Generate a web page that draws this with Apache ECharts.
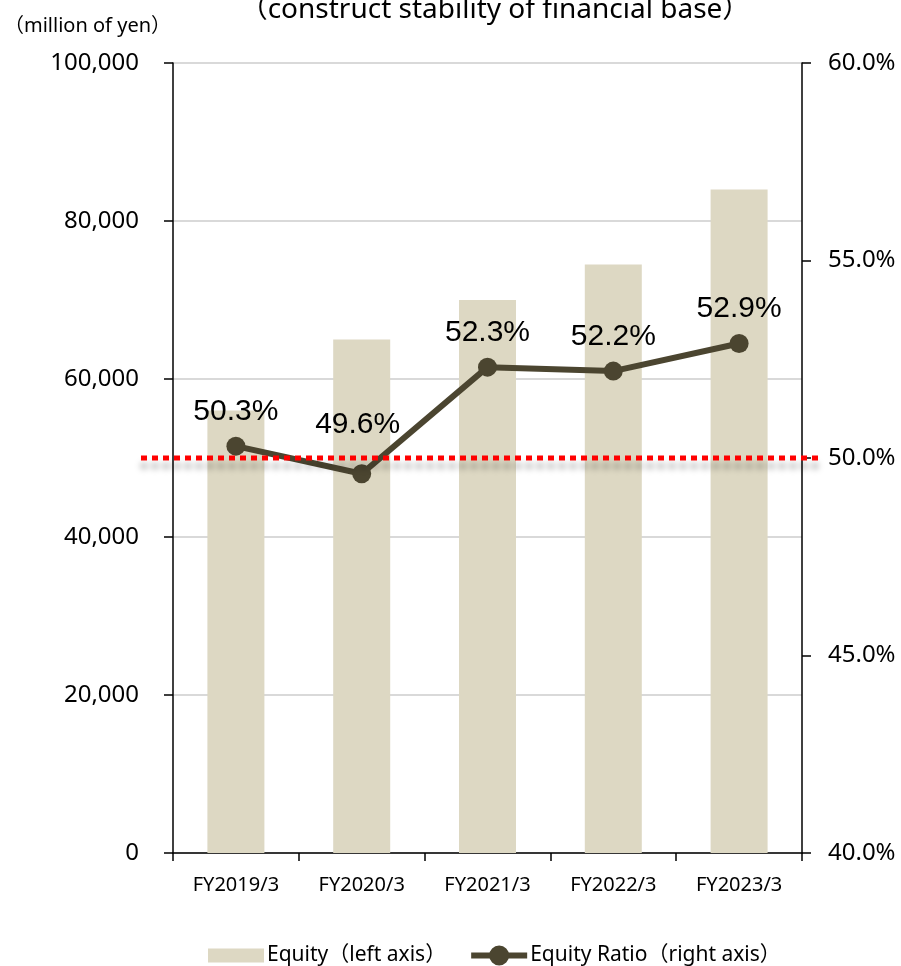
<!DOCTYPE html>
<html>
<head>
<meta charset="utf-8">
<script src="https://cdn.jsdelivr.net/npm/echarts@6/dist/echarts.min.js"></script>
<style>
  html, body { margin: 0; padding: 0; background: #fff; }
  #chart { width: 901px; height: 966px; }
</style>
</head>
<body>
<div id="chart"></div>
<script>
// Fiscal years shown on the category axis
const categories = ['FY2019/3', 'FY2020/3', 'FY2021/3', 'FY2022/3', 'FY2023/3'];
// Equity, million of yen (left axis)
const equity = [56000, 65000, 70000, 74500, 84000];
// Equity ratio, % (right axis)
const equityRatio = [50.3, 49.6, 52.3, 52.2, 52.9];
// Target ratio drawn as the red dotted reference line
const targetRatio = 50;

const labelFont = "'Noto Sans', 'Noto Sans CJK JP', sans-serif";
const numFont = "'Liberation Sans', Arial, sans-serif";

const GRID = { left: 173, right: 99, top: 63, bottom: 113 };
const BAR_COLOR = '#DDD8C3';
const LINE_COLOR = '#4B4530';

// Legend icons drawn in a 56x20 box: a short bar swatch, and a thick line with a dot
const BAR_ICON = 'path://M0,0M0,3L56,3L56,17L0,17ZM56,20';
const LINE_ICON = 'path://M0,7L56,7L56,13L0,13ZM38,10A10,10,0,1,1,18,10A10,10,0,1,1,38,10Z';

const chart = echarts.init(document.getElementById('chart'), null, { renderer: 'canvas' });

const unitLabel = {
  type: 'text',
  left: 4,
  top: 16,
  style: { text: '（million of yen）', fontFamily: labelFont, fontSize: 20, fill: '#000' }
};

// Label of the dipping year sits a bit higher and to the left of its point
const ratioData = equityRatio.map((v, i) =>
  i === 1 ? { value: v, label: { offset: [-4, -15] } } : v
);

const option = {
  backgroundColor: '#ffffff',
  animation: false,
  title: {
    text: '（construct stability of financial base）',
    left: 490,
    textAlign: 'center',
    top: -9,
    textStyle: { fontFamily: labelFont, fontSize: 28, fontWeight: 'normal', color: '#000' }
  },
  legend: {
    top: 940,
    left: 203,
    itemGap: 25,
    itemWidth: 56,
    itemHeight: 20,
    textStyle: { fontFamily: labelFont, fontSize: 21, color: '#000', padding: [0, 0, 0, -2] },
    data: [
      { name: 'Equity（left axis）', icon: BAR_ICON, itemStyle: { color: BAR_COLOR } },
      { name: 'Equity Ratio（right axis）', icon: LINE_ICON, itemStyle: { color: LINE_COLOR } }
    ]
  },
  grid: GRID,
  xAxis: {
    type: 'category',
    data: categories,
    boundaryGap: true,
    axisLine: { lineStyle: { color: '#000', width: 1.5 } },
    axisTick: { show: true, length: 8, alignWithLabel: false, lineStyle: { color: '#000', width: 1.5 } },
    axisLabel: { fontFamily: labelFont, fontSize: 20, color: '#000', margin: 22 }
  },
  yAxis: [{
    type: 'value',
    min: 0,
    max: 100000,
    interval: 20000,
    position: 'left',
    axisLine: { show: true, lineStyle: { color: '#000', width: 1.5 } },
    axisTick: { show: true, length: 9, lineStyle: { color: '#000', width: 1.5 } },
    axisLabel: {
      fontFamily: labelFont, fontSize: 24, color: '#000', margin: 34,
      formatter: v => v.toLocaleString('en-US')
    },
    splitLine: { show: true, lineStyle: { color: '#D9D9D9', width: 2 } }
  }, {
    type: 'value',
    min: 40,
    max: 60,
    interval: 5,
    position: 'right',
    axisLine: { show: true, lineStyle: { color: '#000', width: 1.5 } },
    axisTick: { show: true, length: 9, lineStyle: { color: '#000', width: 1.5 } },
    axisLabel: {
      fontFamily: labelFont, fontSize: 24, color: '#000', margin: 26,
      formatter: v => v.toFixed(1) + '%'
    },
    splitLine: { show: false }
  }],
  series: [{
    name: 'Equity（left axis）',
    type: 'bar',
    yAxisIndex: 0,
    data: equity,
    barWidth: 57,
    itemStyle: { color: BAR_COLOR }
  }, {
    name: 'Equity Ratio（right axis）',
    type: 'line',
    yAxisIndex: 1,
    data: ratioData,
    symbol: 'circle',
    symbolSize: 19,
    lineStyle: { color: LINE_COLOR, width: 6 },
    itemStyle: { color: LINE_COLOR },
    label: {
      show: true,
      position: 'top',
      distance: 10,
      fontFamily: numFont,
      fontSize: 30,
      color: '#000',
      formatter: p => p.value.toFixed(1) + '%'
    },
    z: 5
  }]
};

chart.setOption(option);

// Red dotted target line at the 50% ratio, running a little past both axes
const yTarget = chart.convertToPixel({ yAxisIndex: 1 }, targetRatio);
const x0 = GRID.left - 32;
const x1 = 901 - GRID.right + 17;
chart.setOption({
  graphic: [unitLabel, {
    type: 'line',
    z: 10,
    shape: { x1: x0, y1: yTarget, x2: x1, y2: yTarget },
    style: {
      stroke: '#FF0000',
      lineWidth: 5,
      lineDash: [6, 5],
      shadowColor: 'rgba(0,0,0,0.35)',
      shadowBlur: 6,
      shadowOffsetY: 8
    }
  }]
});
</script>
</body>
</html>
